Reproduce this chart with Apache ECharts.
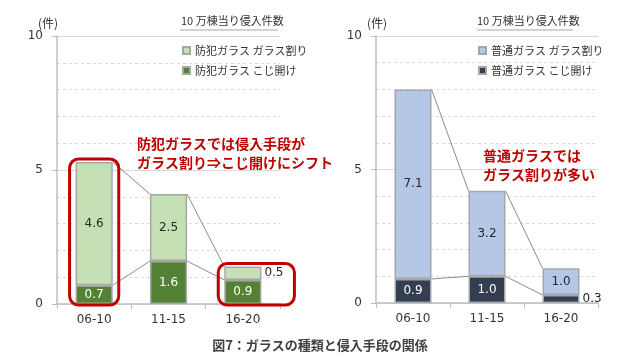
<!DOCTYPE html>
<html>
<head>
<meta charset="utf-8">
<script src="https://cdn.jsdelivr.net/npm/echarts@6/dist/echarts.min.js"></script>
<style>
html,body{margin:0;padding:0;background:#fff;}
#c{width:640px;height:360px;}
</style>
</head>
<body>
<div id="c"></div>
<script>
// ---- data ----
var categories = ['06-10', '11-15', '16-20'];
var secGlassBreak = [4.6, 2.5, 0.5];   // 防犯ガラス ガラス割り
var secPick = [0.7, 1.6, 0.9];         // 防犯ガラス こじ開け
var normGlassBreak = [7.1, 3.2, 1.0];  // 普通ガラス ガラス割り
var normPick = [0.9, 1.0, 0.3];        // 普通ガラス こじ開け
var yTicks = [0, 5, 10];
var panelTitle = '10 万棟当り侵入件数';
var unitLabel = '(件)';
var names = ['防犯ガラス ガラス割り', '防犯ガラス こじ開け', '普通ガラス ガラス割り', '普通ガラス こじ開け'];
var noteLeft = ['防犯ガラスでは侵入手段が', 'ガラス割り⇒こじ開けにシフト'];
var noteRight = ['普通ガラスでは', 'ガラス割りが多い'];
var caption = '図7：ガラスの種類と侵入手段の関係';

var JP = '"Noto Sans CJK JP", sans-serif';
var NUM = '"DejaVu Sans", "Noto Sans CJK JP", sans-serif';
var C = {lg:'#C5E0B4', dg:'#548235', lb:'#B4C7E7', db:'#333F50', red:'#C00000', border:'#A6A6A6'};

function sum(a,b){return a.map(function(v,i){return +(v+b[i]).toFixed(2);});}
var secTotal = sum(secGlassBreak, secPick);
var normTotal = sum(normGlassBreak, normPick);

function connectorData(vals){
  var d=[];
  for(var i=0;i<vals.length-1;i++) d.push([i, vals[i], vals[i+1]]);
  return d;
}
function connector(idx, vals){
  return {
    type:'custom', xAxisIndex:idx, yAxisIndex:idx, z:1, silent:true,
    data: connectorData(vals),
    encode:{x:0, y:1},
    renderItem:function(params, api){
      var i = api.value(0);
      var p1 = api.coord([i, api.value(1)]);
      var p2 = api.coord([i+1, api.value(2)]);
      var half = api.size([1,0])[0]*0.25;
      return {type:'line', shape:{x1:p1[0]+half, y1:p1[1], x2:p2[0]-half, y2:p2[1]},
        style:{stroke:'#8c8c8c', lineWidth:1}};
    }
  };
}
function labelData(vals, rightIdx){
  return vals.map(function(v,i){
    if(i===rightIdx) return {value:v, label:{position:'right', color:'#262626', distance:3}};
    return v;
  });
}
function barSeries(name, idx, vals, color, labelColor, rightIdx){
  return {
    name:name, type:'bar', stack:'s'+idx, xAxisIndex:idx, yAxisIndex:idx, barWidth:'50%', z:2,
    data: labelData(vals, rightIdx),
    itemStyle:{color:color, borderColor:C.border, borderWidth:1.5},
    label:{show:true, position:'inside', color:labelColor, fontSize:12, fontFamily:NUM,
      formatter:function(p){return (+p.value).toFixed(1);}}
  };
}
function yAxis(idx){
  return {
    type:'value', gridIndex:idx, min:0, max:10, interval:5,
    axisLine:{show:true, lineStyle:{color:'#BFBFBF', width:1.5}},
    axisTick:{show:true, length:5, lineStyle:{color:'#BFBFBF'}},
    axisLabel:{color:'#333', fontSize:12, fontFamily:NUM, margin:14,
      formatter:function(v){return yTicks.indexOf(v)>=0 ? String(v) : '';}},
    splitLine:{show:true, lineStyle:{color:'#D9D9D9', width:1}},
    minorTick:{show:false, splitNumber:5},
    minorSplitLine:{show:true, lineStyle:{color:'#D9D9D9', type:[3,3], width:1}}
  };
}
function xAxis(idx){
  return {
    type:'category', gridIndex:idx, data:categories,
    axisLine:{show:true, lineStyle:{color:'#BFBFBF', width:1.5}},
    axisTick:{show:true, length:5, lineStyle:{color:'#BFBFBF'}},
    axisLabel:{color:'#333', fontSize:12, fontFamily:NUM, margin:10}
  };
}
function legend(ns, left){
  return {data:ns, orient:'vertical', left:left, top:45, padding:0, itemWidth:7, itemHeight:7, itemGap:9,
    icon:'rect', textStyle:{fontFamily:JP, fontSize:11, color:'#333'}};
}
function title(text, left, top, size, weight, color){
  return {text:text, left:left, top:top, padding:0,
    textStyle:{fontFamily:JP, fontSize:size, fontWeight:weight, color:color}};
}

var chart = echarts.init(document.getElementById('c'), null, {renderer:'canvas'});
var option = {
  animation:false,
  backgroundColor:'#fff',
  grid:[
    {left:57, right:360, top:36, bottom:56},
    {left:376, right:42, top:36, bottom:57}
  ],
  xAxis:[xAxis(0), xAxis(1)],
  yAxis:[yAxis(0), yAxis(1)],
  legend:[legend([names[0], names[1]], 182), legend([names[2], names[3]], 478)],
  title:[
    title(panelTitle, 181, 15, 11, 'normal', '#333'),
    title(panelTitle, 477, 15, 11, 'normal', '#333'),
    title(unitLabel, 38, 17, 12, 'normal', '#333'),
    title(unitLabel, 367, 17, 12, 'normal', '#333'),
    title(caption, 'center', 339, 13, 'bold', '#404040')
  ],
  series:[
    barSeries(names[1], 0, secPick, C.dg, '#fff', -1),
    barSeries(names[0], 0, secGlassBreak, C.lg, '#262626', 2),
    barSeries(names[3], 1, normPick, C.db, '#fff', 2),
    barSeries(names[2], 1, normGlassBreak, C.lb, '#262626', -1),
    connector(0, secPick), connector(0, secTotal),
    connector(1, normPick), connector(1, normTotal)
  ]
};
chart.setOption(option);

// annotations positioned via the chart's own coordinate conversion
function px(idx, x, y){ return chart.convertToPixel({gridIndex:idx}, [x, y]); }
var band = chart.getModel().getComponent('xAxis',0).axis.getBandWidth();
var hb = band*0.25;
var a0 = px(0, 0, secTotal[0]), z0 = px(0, 0, 0);
var a2 = px(0, 2, secTotal[2]), z2 = px(0, 2, 0);
var graphics = [
  {type:'rect', z:10, shape:{x:a0[0]-hb-6, y:a0[1]-3, width:2*hb+12, height:z0[1]-a0[1]+4, r:9},
   style:{fill:'none', stroke:C.red, lineWidth:3}},
  {type:'rect', z:10, shape:{x:a2[0]-hb-6, y:a2[1]-3, width:2*hb+39, height:z2[1]-a2[1]+4, r:9},
   style:{fill:'none', stroke:C.red, lineWidth:3}},
  {type:'line', shape:{x1:180, y1:30, x2:278, y2:30}, style:{stroke:'#A6A6A6', lineWidth:1}},
  {type:'line', shape:{x1:477, y1:30, x2:573, y2:30}, style:{stroke:'#A6A6A6', lineWidth:1}},
  {type:'text', left:137, top:134, z:10, style:{text:noteLeft.join('\n'), fill:C.red, font:'bold 14px '+JP, lineHeight:19}},
  {type:'text', left:483, top:146, z:10, style:{text:noteRight.join('\n'), fill:C.red, font:'bold 14px '+JP, lineHeight:19}}
];
chart.setOption({graphic:graphics});
</script>
</body>
</html>
